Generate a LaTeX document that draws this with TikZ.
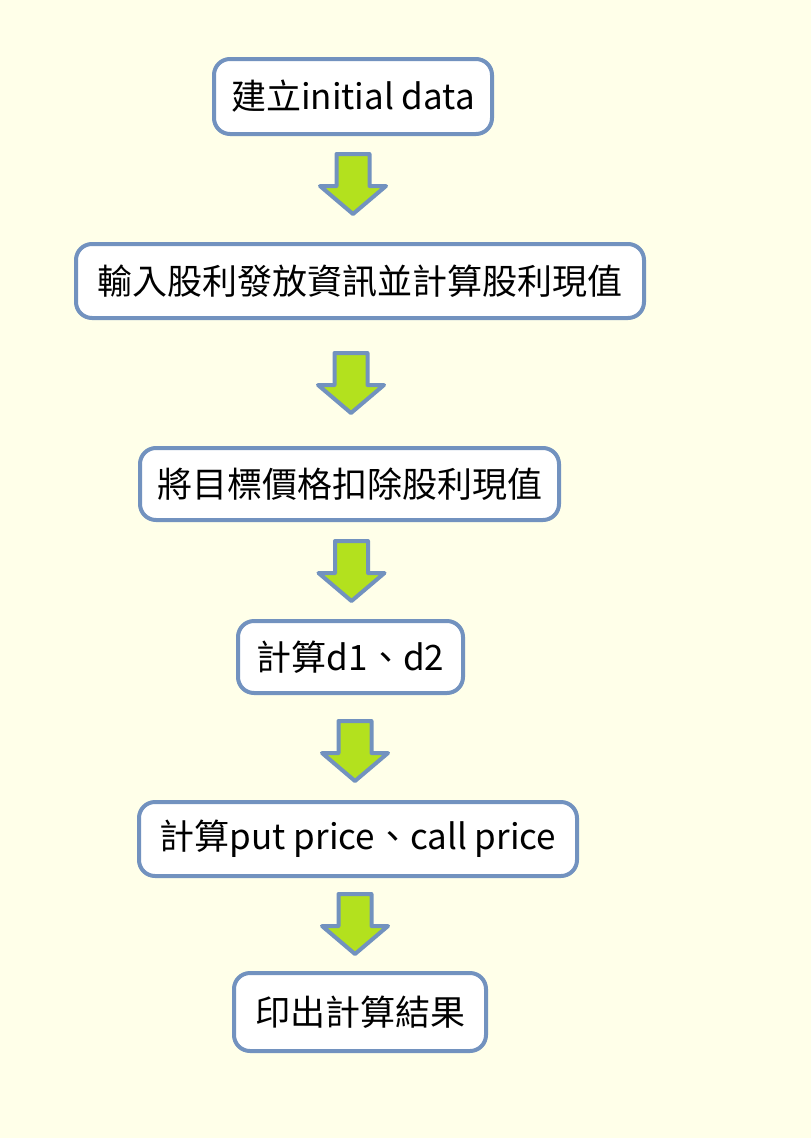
\documentclass[tikz,border=0pt]{standalone}
\usepackage{fontspec}
\setmainfont{Noto Sans CJK TC}
\definecolor{bgcol}{HTML}{FFFFE9}
\definecolor{edgecol}{HTML}{7292BF}
\definecolor{arrowfill}{HTML}{B3E11E}
\tikzset{
  stepbox/.style={draw=edgecol, line width=4pt, fill=white, rounded corners=16pt,
    inner sep=0pt, outer sep=0pt, font=\fontsize{35}{40}\selectfont, text=black},
  blockarr/.style={draw=edgecol, line width=4pt, fill=arrowfill, line join=round}
}
\newcommand{\downblock}[1]{%
  \draw[blockarr] ($(#1)+(-16.5,0)$) -- ($(#1)+(16.5,0)$) -- ($(#1)+(16.5,-32)$)
    -- ($(#1)+(33,-32)$) -- ($(#1)+(0,-60)$) -- ($(#1)+(-33,-32)$)
    -- ($(#1)+(-16.5,-32)$) -- cycle;}
\usetikzlibrary{calc}
\begin{document}
\begin{tikzpicture}[x=1pt,y=1pt]
\useasboundingbox (0,0) rectangle (811,-1138);
\fill[bgcol] (0,0) rectangle (811,-1138);
\node[stepbox, minimum width=278pt, minimum height=75pt] (b1) at (353,-96.5) {建立initial data};
\node[stepbox, minimum width=568pt, minimum height=74pt] (b2) at (360,-281) {輸入股利發放資訊並計算股利現值};
\node[stepbox, minimum width=419pt, minimum height=72pt] (b3) at (349.5,-484) {將目標價格扣除股利現值};
\node[stepbox, minimum width=225pt, minimum height=72pt] (b4) at (350.5,-657) {計算d1、d2};
\node[stepbox, minimum width=438pt, minimum height=74pt] (b5) at (358,-839) {計算put price、call price};
\node[stepbox, minimum width=252pt, minimum height=78pt] (b6) at (360,-1012) {印出計算結果};
\coordinate (a1) at (353,-154);
\coordinate (a2) at (351,-353);
\coordinate (a3) at (351.5,-541);
\coordinate (a4) at (355,-721);
\coordinate (a5) at (355,-894);
\downblock{a1}
\downblock{a2}
\downblock{a3}
\downblock{a4}
\downblock{a5}
\end{tikzpicture}
\end{document}
